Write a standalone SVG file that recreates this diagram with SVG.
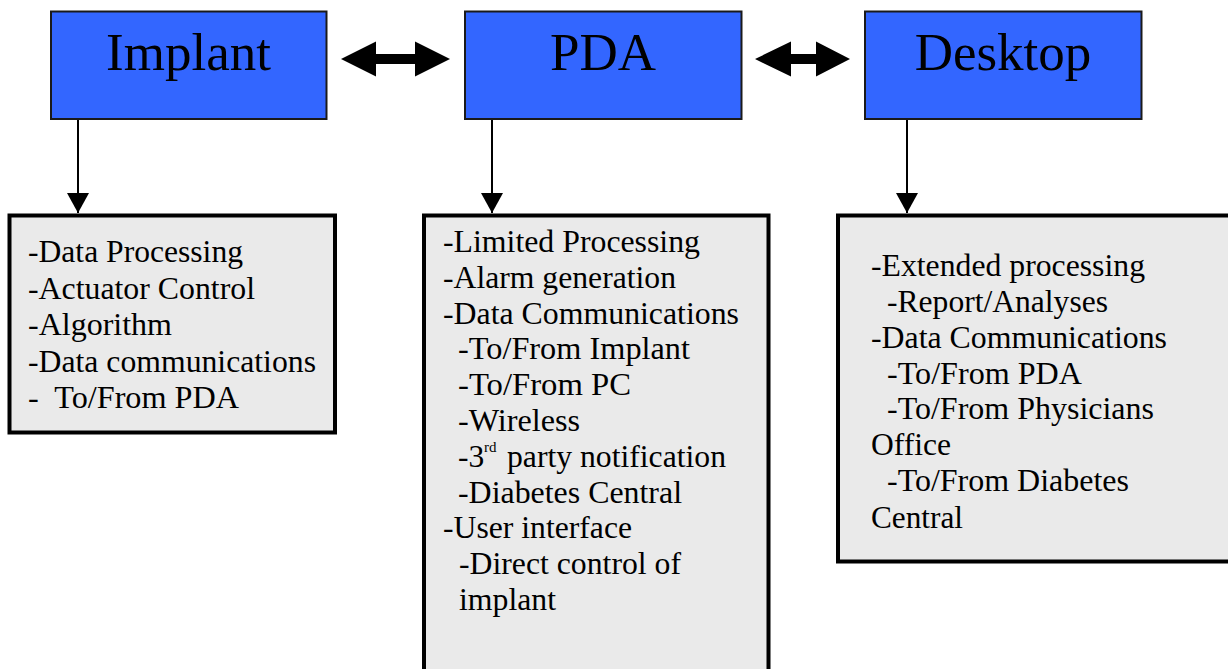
<svg xmlns="http://www.w3.org/2000/svg" width="1228" height="669" viewBox="0 0 1228 669">
<style>
.top{fill:#3366FF;stroke:#1a1a1a;stroke-width:2}
.det{fill:#EAEAEA;stroke:#000;stroke-width:4}
.title{font-family:"Liberation Serif","Times New Roman",serif;font-size:53px;fill:#000;text-anchor:middle}
.body{font-family:"Liberation Serif","Times New Roman",serif;font-size:31.5px;fill:#000}
.sup{font-family:"Liberation Serif","Times New Roman",serif;font-size:15px;fill:#000}
.conn{stroke:#000;stroke-width:2;fill:none}
.dbl{fill:#000}
</style>
<defs>
<marker id="ah" markerUnits="userSpaceOnUse" markerWidth="22" markerHeight="22" refX="20" refY="11" orient="auto">
<path d="M0,0 L20,11 L0,22 Z" fill="#000"/>
</marker>
</defs>
<rect width="1228" height="669" fill="#fff"/>

<g id="implant">
<rect class="top" x="51" y="11.5" width="275.5" height="107.5"/>
<text class="title" x="188.5" y="70">Implant</text>
</g>
<g id="pda">
<rect class="top" x="465" y="11.5" width="276.5" height="107.5"/>
<text class="title" x="603" y="70">PDA</text>
</g>
<g id="desktop">
<rect class="top" x="865" y="11.5" width="276.5" height="107.5"/>
<text class="title" x="1003" y="70">Desktop</text>
</g>

<g id="implant-details">
<rect class="det" x="9.5" y="215.5" width="325.5" height="217"/>
<text class="body" x="28" y="262" textLength="215" lengthAdjust="spacingAndGlyphs">-Data Processing</text>
<text class="body" x="28" y="299" textLength="227" lengthAdjust="spacingAndGlyphs">-Actuator Control</text>
<text class="body" x="28" y="335" textLength="144" lengthAdjust="spacingAndGlyphs">-Algorithm</text>
<text class="body" x="28" y="372" textLength="288" lengthAdjust="spacingAndGlyphs">-Data communications</text>
<text class="body" x="28" y="408" textLength="211" lengthAdjust="spacingAndGlyphs">-&#160; To/From PDA</text>
</g>

<g id="pda-details">
<rect class="det" x="424" y="215.5" width="344.5" height="470"/>
<text class="body" x="443" y="252" textLength="257" lengthAdjust="spacingAndGlyphs">-Limited Processing</text>
<text class="body" x="443" y="288" textLength="233" lengthAdjust="spacingAndGlyphs">-Alarm generation</text>
<text class="body" x="443" y="324" textLength="296" lengthAdjust="spacingAndGlyphs">-Data Communications</text>
<text class="body" x="458" y="359" textLength="232" lengthAdjust="spacingAndGlyphs">-To/From Implant</text>
<text class="body" x="458" y="395" textLength="173" lengthAdjust="spacingAndGlyphs">-To/From PC</text>
<text class="body" x="458" y="431" textLength="122" lengthAdjust="spacingAndGlyphs">-Wireless</text>
<text class="body" x="458" y="467">-3<tspan class="sup" x="484" y="452">rd</tspan><tspan x="507" y="467" textLength="219" lengthAdjust="spacingAndGlyphs">party notification</tspan></text>
<text class="body" x="458" y="503" textLength="224" lengthAdjust="spacingAndGlyphs">-Diabetes Central</text>
<text class="body" x="443" y="538" textLength="189" lengthAdjust="spacingAndGlyphs">-User interface</text>
<text class="body" x="459" y="574" textLength="222" lengthAdjust="spacingAndGlyphs">-Direct control of</text>
<text class="body" x="459" y="610" textLength="97" lengthAdjust="spacingAndGlyphs">implant</text>
</g>

<g id="desktop-details">
<rect class="det" x="838" y="215.5" width="400" height="346"/>
<text class="body" x="871" y="276" textLength="274" lengthAdjust="spacingAndGlyphs">-Extended processing</text>
<text class="body" x="887" y="312" textLength="221" lengthAdjust="spacingAndGlyphs">-Report/Analyses</text>
<text class="body" x="871" y="348" textLength="296" lengthAdjust="spacingAndGlyphs">-Data Communications</text>
<text class="body" x="887" y="384" textLength="195" lengthAdjust="spacingAndGlyphs">-To/From PDA</text>
<text class="body" x="887" y="419" textLength="267" lengthAdjust="spacingAndGlyphs">-To/From Physicians</text>
<text class="body" x="871" y="455" textLength="80" lengthAdjust="spacingAndGlyphs">Office</text>
<text class="body" x="887" y="491" textLength="242" lengthAdjust="spacingAndGlyphs">-To/From Diabetes</text>
<text class="body" x="871" y="528" textLength="92" lengthAdjust="spacingAndGlyphs">Central</text>
</g>

<g id="connectors">
<line class="conn" x1="78" y1="120" x2="78" y2="213" marker-end="url(#ah)"/>
<line class="conn" x1="492" y1="120" x2="492" y2="213" marker-end="url(#ah)"/>
<line class="conn" x1="907" y1="120" x2="907" y2="213" marker-end="url(#ah)"/>
<polygon class="dbl" points="341,59 376,41.5 376,54 415,54 415,41.5 450,59 415,76.5 415,64 376,64 376,76.5"/>
<polygon class="dbl" points="755,59 791,41.5 791,54 816,54 816,41.5 850,59 816,76.5 816,64 791,64 791,76.5"/>
</g>
</svg>
